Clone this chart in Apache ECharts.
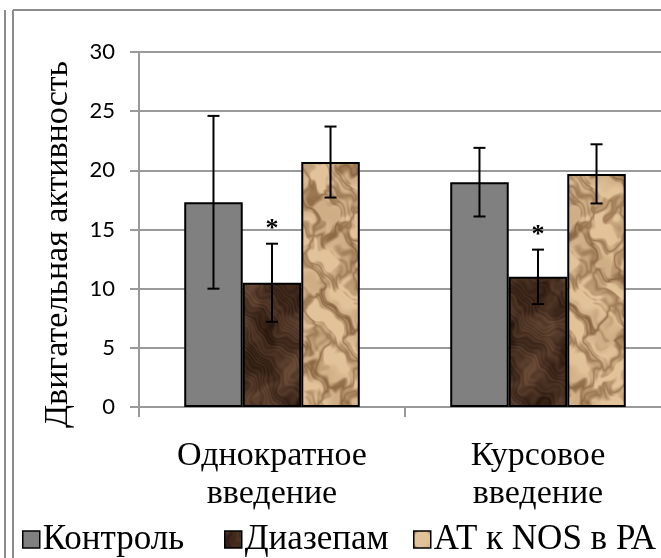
<!DOCTYPE html>
<html>
<head>
<meta charset="utf-8">
<script src="https://cdn.jsdelivr.net/npm/echarts@6/dist/echarts.min.js"></script>
<style>
html,body{margin:0;padding:0;background:#fff;}
#chart{width:661px;height:558px;}
</style>
</head>
<body>
<div id="chart"></div>
<script>
// ---- data ----
const categories = ['Однократное\nвведение', 'Курсовое\nвведение'];
const seriesNames = ['Контроль', 'Диазепам', 'АТ к NOS в РА'];
const controlValues = [17.3, 19.0];
const controlErrors = [7.3, 2.9];
const diazepamValues = [10.5, 11.0];
const diazepamErrors = [3.3, 2.3];
const antibodyValues = [20.7, 19.7];
const antibodyErrors = [3.0, 2.5];
const diazepamMarks = ['*', '*'];
const yTicks = [0, 5, 10, 15, 20, 25, 30];

// ---- textures (style only) ----
function makeTexture(light, dark, w, h, seed, ridge) {
  const c = document.createElement('canvas');
  c.width = w; c.height = h;
  const ctx = c.getContext('2d');
  const img = ctx.createImageData(w, h);
  for (let y = 0; y < h; y++) {
    for (let x = 0; x < w; x++) {
      const wx = x + 11 * Math.sin(0.043 * y + seed) + 6 * Math.sin(0.11 * y + 0.07 * x) + 3 * Math.sin(0.23 * y - 0.19 * x);
      const wy = y + 11 * Math.sin(0.051 * x + seed * 1.7) + 5 * Math.sin(0.13 * x - 0.05 * y) + 3 * Math.sin(0.27 * x + 0.21 * y);
      let f = 0.5 * Math.sin(0.09 * wx + 0.06 * wy + seed)
            + 0.35 * Math.sin(-0.07 * wx + 0.11 * wy + 2 * seed)
            + 0.25 * Math.sin(0.17 * wx - 0.13 * wy + 3 * seed)
            + 0.15 * Math.sin(0.29 * wx + 0.23 * wy + seed)
            + 0.10 * Math.sin(0.53 * wx - 0.47 * wy);
      let t;
      if (ridge) {
        const r = Math.abs(f);
        t = Math.min(1, 0.38 + r * 1.1) - 0.18 * Math.max(0, Math.sin(0.05 * wx - 0.08 * wy + seed));
      } else {
        t = 0.5 + 0.4 * f + 0.1 * Math.sin(0.8 * wx - 0.7 * wy);
      }
      t = Math.max(0, Math.min(1, t));
      const i = (y * w + x) * 4;
      img.data[i] = light[0] * t + dark[0] * (1 - t);
      img.data[i + 1] = light[1] * t + dark[1] * (1 - t);
      img.data[i + 2] = light[2] * t + dark[2] * (1 - t);
      img.data[i + 3] = 255;
    }
  }
  ctx.putImageData(img, 0, 0);
  return c;
}
const brownTex = makeTexture([105, 74, 54], [42, 24, 14], 240, 420, 1.3, false);
const tanTex = makeTexture([226, 194, 152], [118, 80, 46], 240, 420, 2.7, true);

const colors = [
  '#808080',
  { image: brownTex, repeat: 'repeat' },
  { image: tanTex, repeat: 'repeat' }
];

const CAT_GAP = 0.34;

function errorSeries(idx, values, errors, marks) {
  return {
    type: 'custom',
    name: seriesNames[idx] + ' err',
    z: 10,
    silent: true,
    data: values.map((v, i) => [i, v, errors[i]]),
    encode: { x: 0, y: 1 },
    renderItem: function (params, api) {
      const cat = api.value(0), v = api.value(1), e = api.value(2);
      const band = api.size([1, 0])[0];
      const bw = band * (1 - CAT_GAP) / 3;
      const x = api.coord([cat, v])[0] + (idx - 1) * bw;
      const top = api.coord([cat, v + e])[1];
      const bot = api.coord([cat, v - e])[1];
      const st = { stroke: '#000', lineWidth: 2 };
      const children = [
        { type: 'line', shape: { x1: x, y1: top, x2: x, y2: bot }, style: st },
        { type: 'line', shape: { x1: x - 6, y1: top, x2: x + 6, y2: top }, style: st },
        { type: 'line', shape: { x1: x - 6, y1: bot, x2: x + 6, y2: bot }, style: st }
      ];
      const mark = marks ? marks[params.dataIndex] : '';
      if (mark) {
        children.push({
          type: 'text',
          style: {
            text: mark, x: x, y: top - 14,
            align: 'center', verticalAlign: 'middle',
            font: 'bold 26px "Liberation Serif"', fill: '#000'
          }
        });
      }
      return { type: 'group', children: children };
    }
  };
}

const chart = echarts.init(document.getElementById('chart'), null, { renderer: 'canvas' });
chart.setOption({
  animation: false,
  backgroundColor: '#fff',
  color: colors,
  graphic: [
    { type: 'line', shape: { x1: 5, y1: 10, x2: 5, y2: 558 }, style: { stroke: '#8c8c8c', lineWidth: 2 } },
    { type: 'line', shape: { x1: 13, y1: 10, x2: 13, y2: 558 }, style: { stroke: '#8c8c8c', lineWidth: 2 } },
    { type: 'line', shape: { x1: 13, y1: 10, x2: 661, y2: 10 }, style: { stroke: '#8c8c8c', lineWidth: 2 } }
  ],
  grid: { left: 139, width: 532, top: 52, height: 355, containLabel: false, outerBoundsMode: 'none' },
  legend: [0, 1, 2].map((i) => ({
    data: [seriesNames[i]],
    left: [17, 219, 408][i],
    top: 517,
    itemWidth: 17,
    itemHeight: 17,
    itemGap: 4,
    icon: 'rect',
    itemStyle: { borderColor: '#000', borderWidth: 1.5 },
    textStyle: { fontFamily: 'Liberation Serif', fontSize: 35, color: '#000', padding: [0, 0, 0, -2] }
  })),
  xAxis: {
    type: 'category',
    data: categories,
    axisLine: { lineStyle: { color: '#999', width: 2 } },
    axisTick: { show: true, length: 10, lineStyle: { color: '#999', width: 2 } },
    axisLabel: {
      color: '#000', fontFamily: 'Liberation Serif', fontSize: 34,
      lineHeight: 38, margin: 30, interval: 0
    }
  },
  yAxis: {
    type: 'value',
    min: yTicks[0], max: yTicks[yTicks.length - 1], interval: 5,
    name: 'Двигательная активность',
    nameLocation: 'middle',
    nameGap: 64,
    nameTextStyle: { fontFamily: 'Liberation Serif', fontSize: 34, color: '#000', padding: [0, 30, 0, 0] },
    axisLine: { show: true, lineStyle: { color: '#999', width: 2 } },
    axisTick: { show: true, length: 9, lineStyle: { color: '#999', width: 2 } },
    axisLabel: { color: '#000', fontFamily: 'Lato', fontSize: 22, margin: 24 },
    splitLine: { lineStyle: { color: '#9a9a9a', width: 2 } }
  },
  series: [
    {
      type: 'bar', name: seriesNames[0], data: controlValues,
      barGap: '0%', barCategoryGap: (CAT_GAP * 100) + '%',
      itemStyle: { borderColor: '#000', borderWidth: 2 }
    },
    {
      type: 'bar', name: seriesNames[1], data: diazepamValues,
      itemStyle: { borderColor: '#000', borderWidth: 2 }
    },
    {
      type: 'bar', name: seriesNames[2], data: antibodyValues,
      itemStyle: { borderColor: '#000', borderWidth: 2 }
    },
    errorSeries(0, controlValues, controlErrors, null),
    errorSeries(1, diazepamValues, diazepamErrors, diazepamMarks),
    errorSeries(2, antibodyValues, antibodyErrors, null)
  ]
});
</script>
</body>
</html>
